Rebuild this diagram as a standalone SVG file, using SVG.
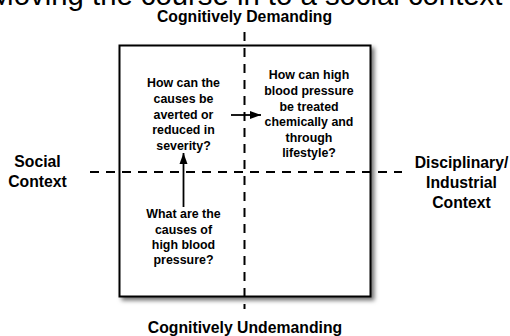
<svg xmlns="http://www.w3.org/2000/svg" width="510" height="336" viewBox="0 0 510 336">
  <defs>
    <filter id="shadow" x="-10%" y="-10%" width="130%" height="130%">
      <feDropShadow dx="3" dy="3" stdDeviation="2" flood-color="#000" flood-opacity="0.55"/>
    </filter>
    <marker id="arrow" markerUnits="userSpaceOnUse" markerWidth="12" markerHeight="10" refX="11" refY="5" orient="auto">
      <path d="M0,1 L11,5 L0,9 Z" fill="#000"/>
    </marker>
  </defs>
  <style>
    .title { font-family: "Liberation Sans", Arial, sans-serif; font-size: 29.3px; fill: #000; }
    .axis { font-family: "Liberation Sans", Arial, sans-serif; font-size: 15.75px; font-weight: bold; fill: #000; text-anchor: middle; }
    .q { font-family: "Liberation Sans", Arial, sans-serif; font-size: 12.4px; font-weight: bold; fill: #000; text-anchor: middle; }
    .dash { stroke: #000; stroke-width: 2; stroke-dasharray: 9 7; fill: none; }
    .link { stroke: #000; stroke-width: 1.8; fill: none; marker-end: url(#arrow); }
  </style>
  <rect width="510" height="336" fill="#fff"/>

  <!-- heading, partly outside the canvas -->
  <text class="title" x="-10.6" y="5">Moving the course in to a social context</text>

  <!-- quadrant frame -->
  <g id="frame">
    <rect x="119.5" y="45.5" width="251" height="251" fill="#fff" stroke="#000" stroke-width="2" filter="url(#shadow)"/>
  </g>

  <!-- dashed axes -->
  <g id="axes">
    <line class="dash" x1="244.5" y1="32" x2="244.5" y2="309"/>
    <line class="dash" x1="90" y1="172" x2="402" y2="172"/>
  </g>

  <!-- axis labels -->
  <g id="label-top">
    <text class="axis" x="244.5" y="22">Cognitively Demanding</text>
  </g>
  <g id="label-bottom">
    <text class="axis" x="245" y="333">Cognitively Undemanding</text>
  </g>
  <g id="label-left">
    <text class="axis" x="37.5" y="167">Social</text>
    <text class="axis" x="37.5" y="187">Context</text>
  </g>
  <g id="label-right">
    <text class="axis" x="461.5" y="168">Disciplinary/</text>
    <text class="axis" x="461.5" y="188">Industrial</text>
    <text class="axis" x="461.5" y="208">Context</text>
  </g>

  <!-- quadrant questions -->
  <g id="q-averted">
    <text class="q" x="183.5" y="87.3">How can the</text>
    <text class="q" x="183.5" y="103">causes be</text>
    <text class="q" x="183.5" y="118.5">averted or</text>
    <text class="q" x="183.5" y="134">reduced in</text>
    <text class="q" x="183.5" y="149.5">severity?</text>
  </g>
  <g id="q-treated">
    <text class="q" x="309" y="79.3">How can high</text>
    <text class="q" x="309" y="95">blood pressure</text>
    <text class="q" x="309" y="110.5">be treated</text>
    <text class="q" x="309" y="126">chemically and</text>
    <text class="q" x="309" y="141.5">through</text>
    <text class="q" x="309" y="157">lifestyle?</text>
  </g>
  <g id="q-causes">
    <text class="q" x="183.5" y="218.3">What are the</text>
    <text class="q" x="183.5" y="233.5">causes of</text>
    <text class="q" x="183.5" y="249">high blood</text>
    <text class="q" x="183.5" y="264">pressure?</text>
  </g>

  <!-- connectors -->
  <g id="connectors">
    <line class="link" x1="183.5" y1="207" x2="183.5" y2="153"/>
    <line class="link" x1="231" y1="115" x2="261" y2="115"/>
  </g>
</svg>
